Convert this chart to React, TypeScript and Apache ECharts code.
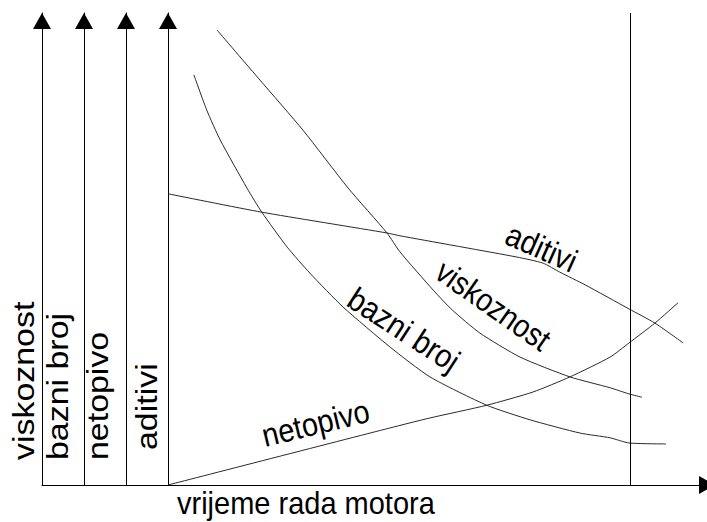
import React, { useEffect, useRef } from "react";
import * as echarts from "echarts";

// Axis captions
const axisNames = ["viskoznost", "bazni broj", "netopivo", "aditivi"];
const xAxisName = "vrijeme rada motora";

// Curves: [time, relative value]
const viskoznost = [
  [10.6, 96.4], [19.9, 85.8], [29.2, 75.2], [39.0, 62.9], [47.4, 53.4], [50.2, 49.4],
  [57.4, 41.3], [61.5, 37.1], [67.5, 32.2], [76.2, 27.1], [87.0, 22.9], [95.7, 20.6],
  [99.8, 19.3], [102.6, 18.6],
];
const bazniBroj = [
  [5.6, 86.9], [8.4, 79.4], [11.3, 73.1], [17.1, 62.9], [20.3, 57.8], [25.8, 50.4],
  [30.7, 44.9], [37.9, 37.7], [48.1, 29.2], [56.7, 22.9], [69.0, 16.9], [78.4, 13.8],
  [89.2, 11.0], [95.7, 10.0], [99.8, 8.9], [107.8, 8.7],
];
const aditivi = [
  [0, 61.7], [20.3, 57.8], [47.4, 53.4], [50.2, 52.8], [75.5, 48.3], [81.2, 47.0],
  [84.8, 45.1], [90.3, 42.4], [99.8, 37.3], [105.4, 34.3], [111.5, 30.1],
];
const netopivo = [
  [0, 0], [48.1, 12.1], [56.7, 14.2], [69.0, 16.9], [79.0, 19.7], [87.0, 22.9],
  [95.7, 27.1], [99.8, 30.1], [105.4, 34.3], [110.4, 38.6],
];
// vertical reference line (end of observed engine run time)
const markerTimes = [100];

const FONT = "Liberation Sans, Arial, Helvetica, sans-serif";

function label(text: string, x: number, y: number, rotDeg: number, sx: number, sy: number) {
  return {
    type: "text",
    x,
    y,
    rotation: (rotDeg * Math.PI) / 180,
    scaleX: sx,
    scaleY: sy,
    silent: true,
    style: {
      text,
      x: 0,
      y: -10,
      fill: "#000",
      fontSize: 29,
      fontFamily: FONT,
      align: "left",
      verticalAlign: "middle",
    },
  };
}

export default function App() {
  const ref = useRef<HTMLDivElement>(null);
  useEffect(() => {
    if (!ref.current) return;
    const chart = echarts.init(ref.current, null, { renderer: "svg" });
    const axisColor = "#000";
    const curveStyle = { color: "#2a2a2a", width: 1 };
    const yOffsets = [0, -42, -84, -126];
    const mkSeries = (name: string, data: number[][], extra: any = {}) => ({
      type: "line",
      name,
      data,
      xAxisIndex: 0,
      yAxisIndex: 0,
      showSymbol: false,
      symbol: "none",
      smooth: 0.2,
      lineStyle: curveStyle,
      silent: true,
      ...extra,
    });
    chart.setOption({
      animation: false,
      backgroundColor: "#fff",
      grid: { left: 42, right: 0, top: 13, bottom: 37, outerBoundsMode: "none", containLabel: false },
      xAxis: {
        type: "value",
        min: -27.27,
        max: 116.67,
        axisLine: {
          show: true,
          onZero: false,
          symbol: ["none", "triangle"],
          symbolSize: [18, 16],
          symbolOffset: [0, 0],
          lineStyle: { color: axisColor, width: 1 },
        },
        axisTick: { show: false },
        axisLabel: { show: false },
        splitLine: { show: false },
      },
      yAxis: yOffsets.map((off) => ({
        type: "value",
        position: "left",
        offset: off,
        min: 0,
        max: 100,
        axisLine: {
          show: true,
          onZero: false,
          symbol: ["none", "triangle"],
          symbolSize: [18, 16],
          symbolOffset: [0, -8],
          lineStyle: { color: axisColor, width: 1 },
        },
        axisTick: { show: false },
        axisLabel: { show: false },
        splitLine: { show: false },
      })),
      series: [
        mkSeries("viskoznost", viskoznost, {
          markLine: {
            silent: true,
            symbol: ["none", "none"],
            label: { show: false },
            lineStyle: { color: "#000", width: 1, type: "solid" },
            data: markerTimes.map((t) => ({ xAxis: t })),
          },
        }),
        mkSeries("bazni broj", bazniBroj),
        mkSeries("aditivi", aditivi),
        mkSeries("netopivo", netopivo),
      ],
      graphic: [
        label(axisNames[0], 34, 460, 90, 1.17, 1),
        label(axisNames[1], 68, 460, 90, 1.17, 1),
        label(axisNames[2], 108, 460, 90, 1.17, 1),
        label(axisNames[3], 157, 450, 90, 1.17, 1),
        label(xAxisName, 177, 514, 0, 1, 1.08),
        label("aditivi", 503, 243, -24, 1, 1.12),
        label("viskoznost", 433, 277, -35, 0.97, 1.12),
        label("bazni broj", 345, 305, -33, 1, 1.12),
        label("netopivo", 265, 447, 13.5, 1, 1.12),
      ],
    });
    return () => chart.dispose();
  }, []);
  return (
    <div
      ref={ref}
      style={{ position: "fixed", left: 0, top: 0, width: 707, height: 522, background: "#fff" }}
    />
  );
}
